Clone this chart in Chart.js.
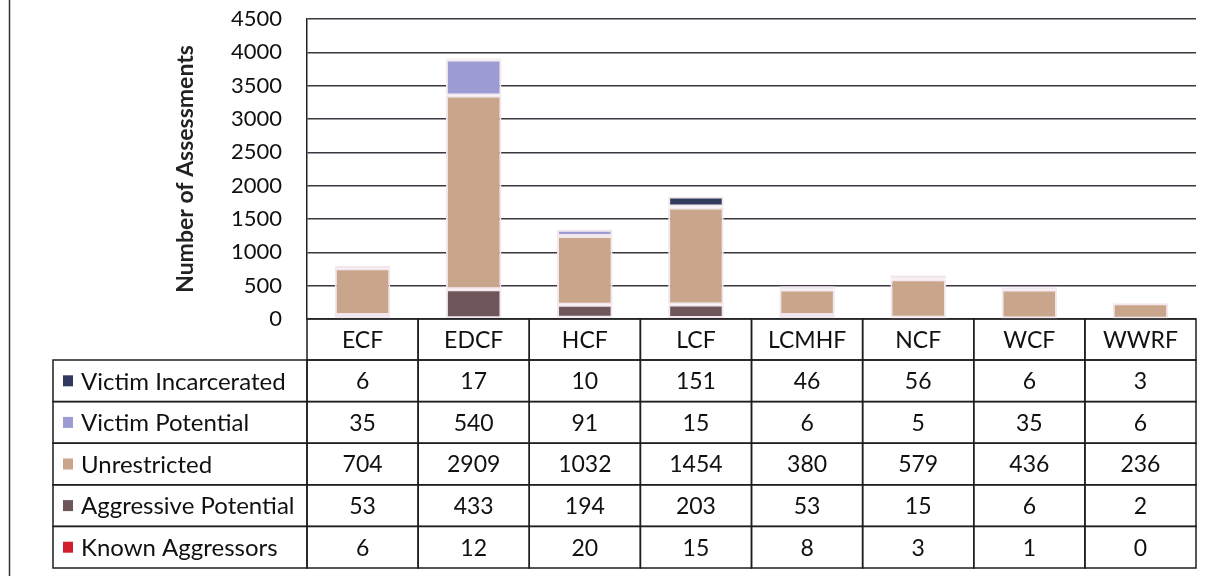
<!DOCTYPE html>
<html><head><meta charset="utf-8">
<script src="https://cdn.jsdelivr.net/npm/chart.js@4.4.0/dist/chart.umd.min.js"></script>
<style>html,body{margin:0;padding:0;background:#fff;}#wrap{width:1212px;height:576px;position:relative;}</style>
</head><body><div id="wrap"><canvas id="c" width="1212" height="576"></canvas></div>
<script>
const categories = ['ECF','EDCF','HCF','LCF','LCMHF','NCF','WCF','WWRF'];
const victimIncarcerated = [6,17,10,151,46,56,6,3];
const victimPotential = [35,540,91,15,6,5,35,6];
const unrestricted = [704,2909,1032,1454,380,579,436,236];
const aggressivePotential = [53,433,194,203,53,15,6,2];
const knownAggressors = [6,12,20,15,8,3,1,0];
const yMin = 0, yMax = 4500, yStep = 500;
const yTitle = 'Number of Assessments';

const FONT = 'Lato, "Open Sans", sans-serif';
const colors = {
  'Victim Incarcerated': '#2f3a5c',
  'Victim Potential': '#9c9cd2',
  'Unrestricted': '#c8a58b',
  'Aggressive Potential': '#6f565b',
  'Known Aggressors': '#d21f2d'
};
// table rows, top to bottom
const tableRows = [
  ['Victim Incarcerated', victimIncarcerated],
  ['Victim Potential', victimPotential],
  ['Unrestricted', unrestricted],
  ['Aggressive Potential', aggressivePotential],
  ['Known Aggressors', knownAggressors]
];
// stack bottom to top
const datasets = tableRows.slice().reverse().map(([name, data]) => ({
  label: name, data: data, backgroundColor: colors[name],
  borderColor: '#f3e7ee', borderWidth: 2, borderSkipped: false,
  barPercentage: 0.5, categoryPercentage: 1.0
}));

const PLOT_LEFT = 307, LABEL_LEFT = 53;
const tablePlugin = {
  id: 'dataTable',
  afterDraw(chart) {
    const ctx = chart.ctx, x = chart.scales.x, area = chart.chartArea;
    const colW = (area.right - area.left) / categories.length;
    const headerTop = area.bottom, headerH = 41, rowH = 41.6;
    ctx.save();
    ctx.strokeStyle = '#1e1e1e'; ctx.lineWidth = 1.5;
    ctx.fillStyle = '#111';
    ctx.font = '23px ' + FONT;
    ctx.textAlign = 'center'; ctx.textBaseline = 'middle';
    categories.forEach((c, i) => {
      const cx = x.getPixelForValue(i);
      ctx.strokeRect(cx - colW / 2, headerTop, colW, headerH);
      ctx.fillText(c, cx, headerTop + headerH / 2 + 1);
    });
    tableRows.forEach(([name, data], r) => {
      const y = headerTop + headerH + r * rowH;
      ctx.strokeRect(LABEL_LEFT, y, area.left - LABEL_LEFT, rowH);
      ctx.fillStyle = colors[name];
      ctx.fillRect(LABEL_LEFT + 10, y + rowH / 2 - 5.5, 10, 11);
      ctx.fillStyle = '#111';
      ctx.textAlign = 'left';
      ctx.font = '24px ' + FONT;
      ctx.fillText(name, LABEL_LEFT + 28, y + rowH / 2 + 1);
      ctx.font = '23px ' + FONT;
      ctx.textAlign = 'center';
      data.forEach((v, i) => {
        const cx = x.getPixelForValue(i);
        ctx.strokeRect(cx - colW / 2, y, colW, rowH);
        ctx.fillText(String(v), cx, y + rowH / 2 + 1);
      });
    });
    // outer frame line on left
    ctx.beginPath(); ctx.moveTo(9.5, 0); ctx.lineTo(9.5, 576);
    ctx.strokeStyle = '#333'; ctx.lineWidth = 1.5; ctx.stroke();
    ctx.restore();
  }
};

new Chart(document.getElementById('c'), {
  type: 'bar',
  data: { labels: categories, datasets: datasets },
  options: {
    responsive: false, devicePixelRatio: 1, animation: false,
    layout: { padding: { left: 0, right: 16, top: 19, bottom: 576 - 319 } },
    plugins: { legend: { display: false }, tooltip: { enabled: false } },
    scales: {
      x: { stacked: true, display: false, offset: true, grid: { display: false } },
      y: {
        stacked: true, min: yMin, max: yMax,
        ticks: { stepSize: yStep, padding: 0, color: '#111',
          font: { family: FONT, size: 22 }, callback: v => String(v) },
        grid: { color: '#3b3640', lineWidth: 1.5, drawTicks: true, tickLength: 25, tickColor: 'rgba(0,0,0,0)' },
        border: { display: true, color: '#222', width: 1.5 },
        title: { display: true, text: yTitle, color: '#222',
          font: { family: FONT, size: 23, weight: 'bold' }, padding: { top: 172, bottom: 0 } },
        afterFit(s) { s.width = PLOT_LEFT; }
      }
    }
  },
  plugins: [tablePlugin]
});
</script></body></html>
